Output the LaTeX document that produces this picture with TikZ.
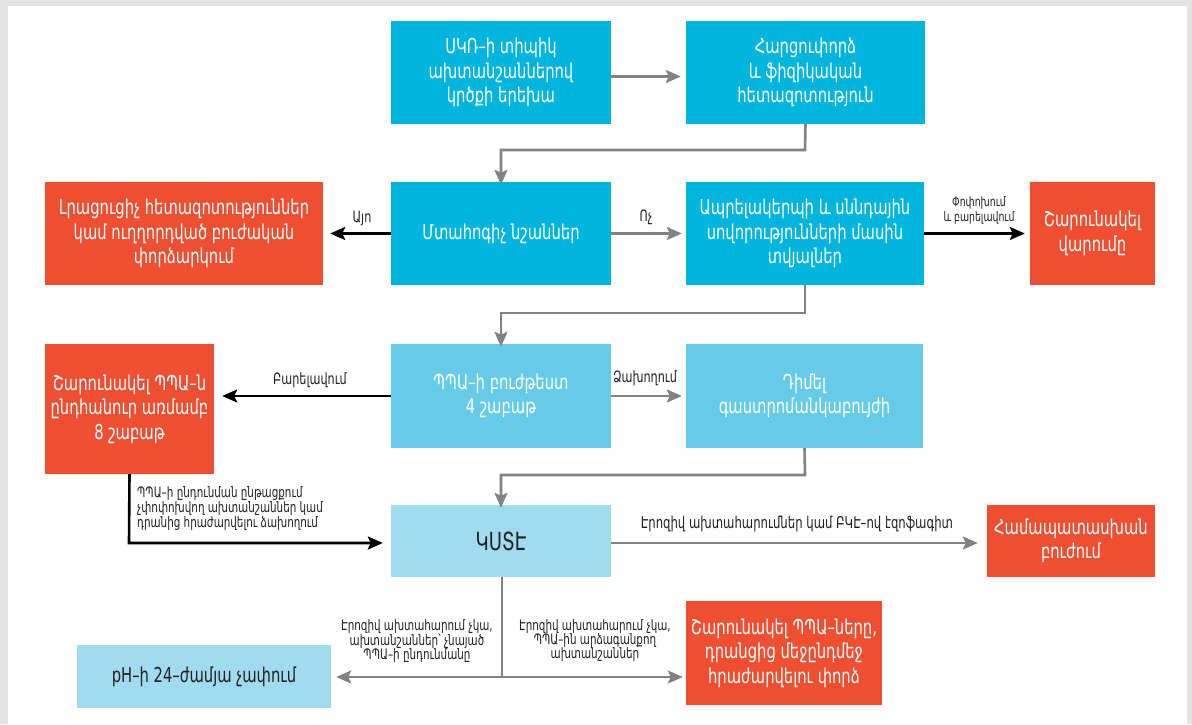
\documentclass[tikz,border=0pt]{standalone}
\usepackage{fontspec}
\setmainfont{DejaVu Sans Condensed}[FakeStretch=0.8]
\usetikzlibrary{arrows.meta}
\definecolor{cyanA}{HTML}{00B5DD}
\definecolor{cyanB}{HTML}{66CBE9}
\definecolor{cyanC}{HTML}{A0DCF0}
\definecolor{redbox}{HTML}{F04E31}
\definecolor{lgray}{HTML}{808285}
\definecolor{ink}{HTML}{231F20}
\definecolor{frame}{HTML}{E4E4E4}
\begin{document}
\begin{tikzpicture}[x=1pt,y=-1pt,
  box/.style={rectangle, inner sep=0pt, text=white, align=center,
    font=\fontsize{20.5}{24.5}\selectfont},
  bluebox/.style={box, fill=cyanA},
  midbox/.style={box, fill=cyanB},
  palebox/.style={box, fill=cyanC},
  rednode/.style={box, fill=redbox},
  tip/.style={-{Stealth[length=15pt,width=13pt,inset=3pt]}},
  glink/.style={draw=lgray, line width=2.6pt, tip},
  gline/.style={draw=lgray, line width=2.6pt},
  klink/.style={draw=black, line width=2.6pt, tip},
  lbl/.style={text=ink, inner sep=0pt, align=center,
    font=\fontsize{15.6}{17}\selectfont},
]
% page and panel
\useasboundingbox (0,0) rectangle (1192,724);
\fill[frame] (0,0) rectangle (1192,724);
\fill[white] (8,6) rectangle (1187,724);

% first row
\node[bluebox, minimum width=220pt, minimum height=103pt] (A) at (501,72.5)
  {ՍԿՌ–ի տիպիկ\\ախտանշաններով\\կրծքի երեխա};
\node[bluebox, minimum width=239pt, minimum height=103pt] (B) at (805.5,72.5)
  {Հարցուփորձ\\և ֆիզիկական\\հետազոտություն};

% second row
\node[rednode, minimum width=278pt, minimum height=103pt] (C) at (184,233.5)
  {Լրացուցիչ հետազոտություններ\\կամ ուղղորդված բուժական\\փորձարկում};
\node[bluebox, minimum width=220pt, minimum height=103pt] (D) at (501,233.5)
  {Մտահոգիչ նշաններ};
\node[bluebox, minimum width=238pt, minimum height=103pt] (E) at (805,233.5)
  {Ապրելակերպի և սննդային\\սովորությունների մասին\\տվյալներ};
\node[rednode, minimum width=125pt, minimum height=103pt] (F) at (1092.5,233.5)
  {Շարունակել\\վարումը};

% third row
\node[rednode, minimum width=169pt, minimum height=130pt] (G) at (129.5,409)
  {Շարունակել ՊՊԱ–ն\\ընդհանուր առմամբ\\8 շաբաթ};
\node[midbox, minimum width=220pt, minimum height=104pt] (H) at (501,396)
  {ՊՊԱ–ի բուժթեստ\\4 շաբաթ};
\node[midbox, minimum width=237pt, minimum height=104pt] (I) at (804.5,396)
  {Դիմել\\գաստրոմանկաբույժի};

% fourth row
\node[palebox, minimum width=220pt, minimum height=72pt,
  font=\fontsize{25}{28}\selectfont, text=ink] (J) at (501,541) {ԿՍՏԷ};
\node[rednode, minimum width=168pt, minimum height=72pt] (K) at (1071,541)
  {Համապատասխան\\բուժում};

% last row
\node[palebox, minimum width=254pt, minimum height=63pt, text=ink] (L) at (204,676.5)
  {pH–ի 24–ժամյա չափում};
\node[rednode, minimum width=196pt, minimum height=104pt] (M) at (784,653)
  {Շարունակել ՊՊԱ–ները,\\դրանցից մեջընդմեջ\\հրաժարվելու փորձ};

% connectors
\draw[glink] ([yshift=-4pt]A.east) -- ([xshift=-5pt,yshift=-4pt]B.west);
\coordinate (b1) at (805,150);
\draw[glink] (B.south) -- (b1) -- (b1 -| D.north) -- ([yshift=-3pt]D.north);

\draw[klink] (D.west) -- ([xshift=7pt]C.east);
\node[lbl] (yes) at (362,218) {Այո};
\draw[glink] (D.east) -- ([xshift=-4pt]E.west);
\node[lbl] (no) at (646,217) {Ոչ};
\draw[klink] (E.east) -- ([xshift=-5pt]F.west);
\node[lbl, font=\fontsize{13}{15}\selectfont] (imp) at (979,210)
  {Փոփոխում\\և բարելավում};

\coordinate (e1) at (805,313);
\draw[glink] (E.south) -- (e1) -- (e1 -| H.north) -- ([yshift=-3pt]H.north);

\draw[klink] (H.west) -- ([xshift=8pt]G.east |- H.west);
\node[lbl] (better) at (310,380) {Բարելավում};
\draw[glink] (H.east) -- ([xshift=-4pt]I.west);
\node[lbl] (fail) at (645,378) {Ձախողում};

\coordinate (i1) at (805,475);
\draw[glink] (I.south) -- (i1) -- (i1 -| J.north) -- ([yshift=-3pt]J.north);

\coordinate (g1) at (129,543);
\draw[klink] (G.south) -- (g1) -- ([xshift=-8pt]g1 -| J.west);
\node[lbl, anchor=west, align=left, font=\fontsize{14.4}{15}\selectfont] (refr) at (137,509)
  {ՊՊԱ–ի ընդունման ընթացքում\\չփոփոխվող ախտանշաններ կամ\\դրանից հրաժարվելու ձախողում};

\draw[glink] ([yshift=-2pt]J.east) -- ([xshift=-9pt,yshift=-2pt]K.west);
\node[lbl, font=\fontsize{16.2}{18}\selectfont] (eros) at (797,524)
  {Էրոզիվ ախտահարումներ կամ ԲԿԷ–ով էզոֆագիտ};

\coordinate (j1) at (502,677);
\draw[gline] (J.south -| j1) -- (j1);
\draw[glink] (j1) -- ([xshift=5pt]j1 -| L.east);
\draw[glink] (j1) -- ([xshift=-3pt]j1 -| M.west);
\node[lbl, font=\fontsize{14.4}{14}\selectfont] (noerL) at (417,641)
  {Էրոզիվ ախտահարում չկա,\\ախտանշաններ՝ չնայած\\ՊՊԱ–ի ընդունմանը};
\node[lbl, font=\fontsize{14.4}{14}\selectfont] (noerR) at (595,641)
  {Էրոզիվ ախտահարում չկա,\\ՊՊԱ–ին արձագանքող\\ախտանշաններ};
\end{tikzpicture}
\end{document}
